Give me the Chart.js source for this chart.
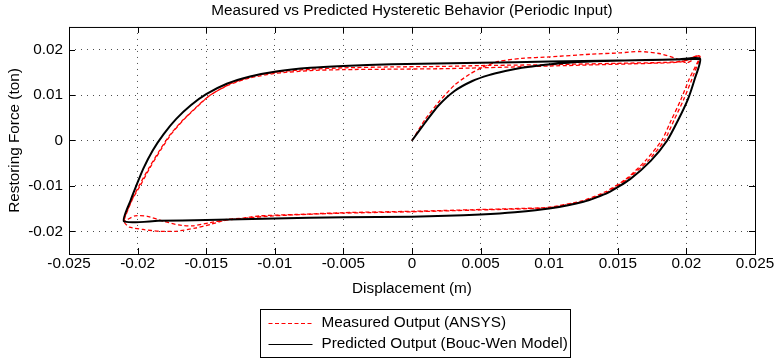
<!DOCTYPE html>
<html>
<head>
<meta charset="utf-8">
<title>Measured vs Predicted Hysteretic Behavior</title>
<script src="https://cdn.jsdelivr.net/npm/chart.js@4/dist/chart.umd.min.js"></script>
<style>
  html, body { margin: 0; padding: 0; background: #fff; }
</style>
</head>
<body>
<canvas id="hysteresis" width="777" height="359"></canvas>
<script>
// displacement (m) / restoring force (ton), periodic input
const measuredDisp = [
  0, 0.00095, 0.0019, 0.0031, 0.0042, 0.0052, 0.0063, 0.008, 0.01, 0.013, 0.0152, 0.0166, 0.0181, 0.0193, 0.02, 0.0205, 0.0208, 0.021,
  0.0202, 0.0196, 0.0189, 0.0182, 0.017, 0.0156, 0.0141, 0.0124, 0.01, 0.0075, 0.005, 0.0025, 0, -0.005, -0.0085,
  -0.0111, -0.0123, -0.0135, -0.0147, -0.016, -0.017, -0.0181, -0.0193, -0.0202, -0.021,
  -0.0204, -0.0199, -0.0192, -0.0184, -0.0176, -0.0167, -0.0157, -0.0148, -0.0134, -0.0118, -0.0099, -0.0074, -0.005, -0.0015,
  0.002, 0.005, 0.01, 0.015, 0.0185, 0.0198, 0.0207, 0.021,
  0.0204, 0.0198, 0.0191, 0.0184, 0.0172, 0.0157, 0.0142, 0.0125, 0.01, 0.0075, 0.005, 0.0025, 0, -0.005, -0.0101,
  -0.0125, -0.0138, -0.0147, -0.0158, -0.0172, -0.0184, -0.0196, -0.0206, -0.0209, -0.021,
  -0.0204, -0.0198, -0.0191, -0.0183, -0.0175, -0.0166, -0.0156, -0.0147, -0.0133, -0.0117, -0.0098, -0.0074, -0.005, -0.0015,
  0.002, 0.005, 0.01, 0.015, 0.0185, 0.0198, 0.0207, 0.021
];
const measuredForce = [
  0, 0.0046, 0.0083, 0.0122, 0.0146, 0.0162, 0.0174, 0.0181, 0.0184, 0.019, 0.0193, 0.0196, 0.0191, 0.018, 0.0171, 0.0178, 0.0187, 0.0185,
  0.0135, 0.009, 0.0045, 0, -0.0045, -0.0085, -0.0113, -0.0133, -0.0147, -0.015, -0.0152, -0.0154, -0.0156, -0.0159, -0.0163,
  -0.0166, -0.0171, -0.0174, -0.0181, -0.0188, -0.0186, -0.0178, -0.0167, -0.0166, -0.0177,
  -0.013, -0.01, -0.0062, -0.0022, 0.0014, 0.0045, 0.0074, 0.0098, 0.0122, 0.0138, 0.0148, 0.0154, 0.0156, 0.0157,
  0.0158, 0.016, 0.0164, 0.0168, 0.0171, 0.0174, 0.0186, 0.0185,
  0.0135, 0.009, 0.0045, 0, -0.0045, -0.0085, -0.0114, -0.0134, -0.0148, -0.0151, -0.0153, -0.0155, -0.0157, -0.016, -0.0166,
  -0.0172, -0.0177, -0.0185, -0.0193, -0.02, -0.02, -0.0196, -0.0191, -0.0183, -0.0177,
  -0.0131, -0.0099, -0.006, -0.002, 0.0016, 0.0047, 0.0076, 0.01, 0.0124, 0.0141, 0.0151, 0.0157, 0.016, 0.0162,
  0.0163, 0.0165, 0.0167, 0.017, 0.0172, 0.0175, 0.0186, 0.0185
];
const predictedDisp = [
  0, 0.00095, 0.0019, 0.0031, 0.0044, 0.0056, 0.0068, 0.008, 0.0097, 0.0116, 0.014, 0.017, 0.0195, 0.021,
  0.0206, 0.0201, 0.0194, 0.0186, 0.0174, 0.0159, 0.0143, 0.0125, 0.01, 0.0075, 0.005, 0.0025, 0, -0.005, -0.01, -0.015, -0.0185, -0.021,
  -0.0205, -0.0201, -0.0196, -0.0189, -0.0181, -0.0172, -0.0161, -0.015, -0.0135, -0.0118, -0.0099, -0.0074, -0.005, -0.0015,
  0.005, 0.01, 0.015, 0.02, 0.021
];
const predictedForce = [
  0, 0.0039, 0.0076, 0.0109, 0.0131, 0.0144, 0.0153, 0.016, 0.0167, 0.0172, 0.0175, 0.0177, 0.0179, 0.018,
  0.0135, 0.009, 0.0045, 0, -0.0045, -0.0085, -0.0115, -0.0135, -0.015, -0.0158, -0.0163, -0.0166, -0.0168, -0.0169, -0.0172, -0.0175, -0.0177, -0.0178,
  -0.0131, -0.01, -0.0063, -0.0022, 0.0014, 0.0047, 0.0078, 0.0102, 0.0125, 0.0141, 0.0152, 0.016, 0.0164, 0.0168,
  0.0171, 0.0174, 0.0176, 0.0179, 0.018
];
const xTicks = [-0.025, -0.02, -0.015, -0.01, -0.005, 0, 0.005, 0.01, 0.015, 0.02, 0.025];
const yTicks = [-0.02, -0.01, 0, 0.01, 0.02];

const fontFamily = "'Liberation Sans', Arial, Helvetica, sans-serif";
const fontSize = 15.3;

const toPoints = (xs, ys) => xs.map((x, i) => ({ x: x, y: ys[i] }));

// box round the plot area with inward tick marks on all four sides
const axesBox = {
  id: 'axesBox',
  afterDatasetsDraw(chart) {
    const { ctx, chartArea: a, scales: { x, y } } = chart;
    ctx.save();
    ctx.strokeStyle = '#000';
    ctx.lineWidth = 1;
    ctx.beginPath();
    x.ticks.forEach(t => {
      const px = Math.round(x.getPixelForValue(t.value)) + 0.5;
      ctx.moveTo(px, a.bottom); ctx.lineTo(px, a.bottom - 6);
      ctx.moveTo(px, a.top); ctx.lineTo(px, a.top + 6);
    });
    y.ticks.forEach(t => {
      const py = Math.round(y.getPixelForValue(t.value)) + 0.5;
      ctx.moveTo(a.left, py); ctx.lineTo(a.left + 6, py);
      ctx.moveTo(a.right, py); ctx.lineTo(a.right - 6, py);
    });
    ctx.stroke();
    ctx.strokeRect(a.left + 0.5, a.top + 0.5, a.right - a.left, a.bottom - a.top);
    ctx.restore();
  }
};

// legend in a framed box under the x axis title, one row per dataset
const boxLegend = {
  id: 'boxLegend',
  afterDraw(chart) {
    const { ctx, chartArea: a } = chart;
    const sets = chart.data.datasets;
    ctx.save();
    ctx.font = fontSize + 'px ' + fontFamily;
    const textW = Math.max(...sets.map(d => ctx.measureText(d.label).width));
    const w = Math.round(8 + 44 + 9 + textW + 3);
    const h = 48;
    const left = Math.round((a.left + a.right) / 2 - w / 2 + 3) + 0.5;
    const top = Math.round(a.bottom + 55) + 0.5;
    ctx.fillStyle = '#fff';
    ctx.fillRect(left, top, w, h);
    ctx.strokeStyle = '#000';
    ctx.lineWidth = 1;
    ctx.strokeRect(left, top, w, h);
    sets.forEach((d, i) => {
      const yy = top + 13.5 + i * 20.5;
      ctx.beginPath();
      ctx.setLineDash(d.borderDash || []);
      ctx.strokeStyle = d.borderColor;
      ctx.lineWidth = 1;
      ctx.moveTo(left + 8, Math.round(yy) + 0.5);
      ctx.lineTo(left + 52, Math.round(yy) + 0.5);
      ctx.stroke();
      ctx.setLineDash([]);
      ctx.fillStyle = '#000';
      ctx.textBaseline = 'middle';
      ctx.textAlign = 'left';
      ctx.fillText(d.label, left + 61, yy);
    });
    ctx.restore();
  }
};

Chart.defaults.font.family = fontFamily;
Chart.defaults.font.size = fontSize;
Chart.defaults.color = '#000';

new Chart(document.getElementById('hysteresis'), {
  type: 'scatter',
  data: {
    datasets: [
      {
        label: 'Measured Output (ANSYS)',
        data: toPoints(measuredDisp, measuredForce),
        showLine: true,
        borderColor: '#ff0000',
        borderWidth: 1.3,
        borderDash: [4, 2.5],
        pointRadius: 0,
        tension: 0.2,
        fill: false,
        order: 1
      },
      {
        label: 'Predicted Output (Bouc-Wen Model)',
        data: toPoints(predictedDisp, predictedForce),
        showLine: true,
        borderColor: '#000000',
        borderWidth: 2,
        borderDash: [],
        pointRadius: 0,
        tension: 0.2,
        fill: false,
        order: 0
      }
    ]
  },
  options: {
    responsive: false,
    animation: false,
    devicePixelRatio: 1,
    layout: { padding: { left: 0, right: 22, top: 0, bottom: 0 } },
    plugins: {
      legend: { display: false },
      tooltip: { enabled: false },
      title: {
        display: true,
        fullSize: false,
        text: 'Measured vs Predicted Hysteretic Behavior (Periodic Input)',
        font: { size: fontSize, weight: 'normal' },
        color: '#000',
        padding: { top: 2, bottom: 6.6 }
      }
    },
    scales: {
      x: {
        type: 'linear',
        min: -0.025,
        max: 0.025,
        afterBuildTicks: s => { s.ticks = xTicks.map(v => ({ value: v })); },
        afterFit: s => { s.height = 105; },
        ticks: { callback: v => String(v), autoSkip: false, maxRotation: 0, padding: 1, color: '#000' },
        grid: { color: 'rgba(0,0,0,0.7)', lineWidth: 1, drawTicks: false },
        border: { display: false, dash: [1, 5] },
        title: { display: true, text: 'Displacement (m)', color: '#000', padding: { top: 0, bottom: 61 } }
      },
      y: {
        type: 'linear',
        min: -0.025,
        max: 0.025,
        afterBuildTicks: s => { s.ticks = yTicks.map(v => ({ value: v })); },
        afterFit: s => { s.width = 69; },
        ticks: { callback: v => String(v), padding: 6, color: '#000' },
        grid: { color: 'rgba(0,0,0,0.7)', lineWidth: 1, drawTicks: false },
        border: { display: false, dash: [1, 5] },
        title: { display: true, text: 'Restoring Force (ton)', color: '#000', padding: { top: 6, bottom: 0 } }
      }
    }
  },
  plugins: [axesBox, boxLegend]
});
</script>
</body>
</html>
